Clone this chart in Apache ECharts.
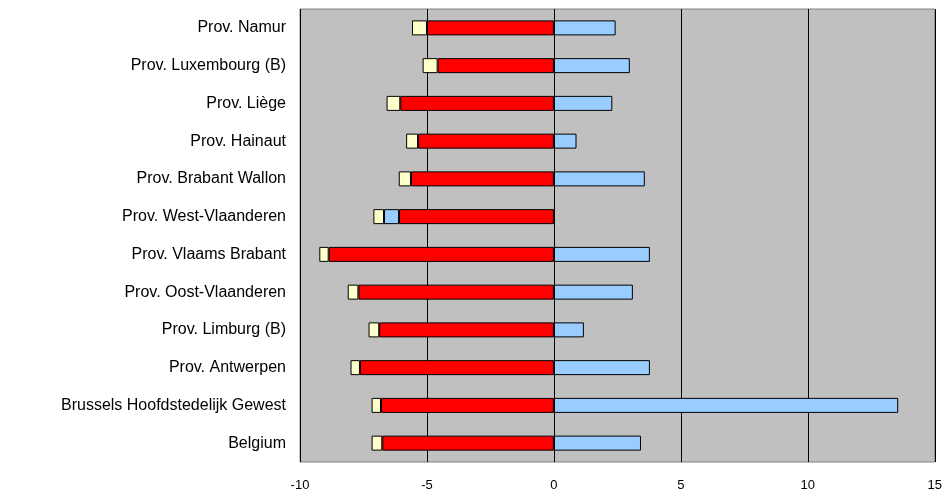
<!DOCTYPE html>
<html>
<head>
<meta charset="utf-8">
<script src="https://cdn.jsdelivr.net/npm/echarts@6/dist/echarts.min.js"></script>
<style>
html,body{margin:0;padding:0;background:#fff;}
#c{width:945px;height:495px;}
</style>
</head>
<body>
<div id="c"></div>
<script>
var categories = ["Prov. Namur","Prov. Luxembourg (B)","Prov. Liège","Prov. Hainaut","Prov. Brabant Wallon","Prov. West-Vlaanderen","Prov. Vlaams Brabant","Prov. Oost-Vlaanderen","Prov. Limburg (B)","Prov. Antwerpen","Brussels Hoofdstedelijk Gewest","Belgium"];
var redValues   = [-5.0, -4.58, -6.05, -5.35, -5.63, -6.10, -8.87, -7.70, -6.88, -7.64, -6.81, -6.76];
var blueValues  = [2.43, 2.99, 2.30, 0.89, 3.58, -0.59, 3.78, 3.11, 1.18, 3.78, 13.56, 3.43];
var creamValues = [-0.59, -0.59, -0.54, -0.47, -0.48, -0.42, -0.37, -0.42, -0.42, -0.37, -0.37, -0.42];
var xTicks = [-10, -5, 0, 5, 10, 15];

var chart = echarts.init(document.getElementById('c'), null, {renderer:'canvas'});
var font = '"Liberation Sans", Arial, sans-serif';
function bar(name, data, color){
  return {
    name: name, type:'bar', stack:'total', data: data, barWidth: 15,
    itemStyle:{color:color, borderColor:'#000', borderWidth:1},
    emphasis:{disabled:true}, animation:false
  };
}
chart.setOption({
  animation:false,
  grid:{left:300, right:10, top:9, bottom:33, show:true, backgroundColor:'#C0C0C0', borderColor:'#808080', borderWidth:1},
  xAxis:{
    type:'value', min:xTicks[0], max:xTicks[xTicks.length-1], interval:5,
    axisLine:{show:false}, axisTick:{show:false},
    splitLine:{show:true, lineStyle:{color:'#000', width:1}},
    axisLabel:{color:'#000', fontSize:13, fontFamily:font, margin:17,
      formatter:function(v){return xTicks.indexOf(v)>=0 ? String(v) : '';},
      showMinLabel:true, showMaxLabel:true}
  },
  yAxis:{
    type:'category', data:categories, inverse:true,
    axisLine:{show:false}, axisTick:{show:false},
    axisLabel:{color:'#000', fontSize:16, fontFamily:font, margin:14}
  },
  series:[
    bar('red', redValues, '#FF0000'),
    bar('blue', blueValues, '#99CCFF'),
    bar('cream', creamValues, '#FFFFCC')
  ]
});
</script>
</body>
</html>
